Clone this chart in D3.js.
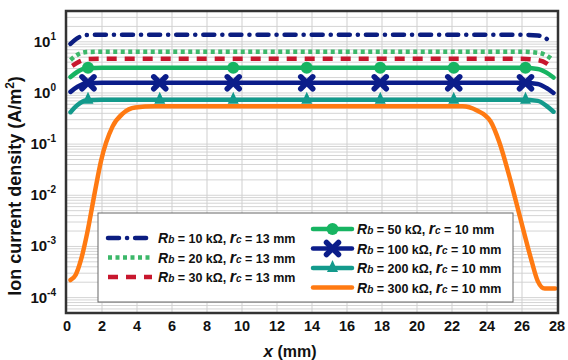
<!DOCTYPE html>
<html>
<head>
<meta charset="utf-8">
<script src="https://cdn.jsdelivr.net/npm/d3@7"></script>
<style>
  body { margin: 0; background: #fff; }
  text { font-family: "Liberation Sans", Arial, sans-serif; font-weight: bold; }
</style>
</head>
<body>
<div id="chart-area"></div>
<script>
// ---- data ----
var xTicks = [0, 2, 4, 6, 8, 10, 12, 14, 16, 18, 20, 22, 24, 26, 28];
var yTickExps = [-4, -3, -2, -1, 0, 1];

var x10k  = [0.2, 0.6, 1.1, 2, 14, 26, 26.9, 27.4, 27.7];
var y10k  = [9.1, 11.8, 13.6, 13.7, 13.7, 13.7, 13.3, 11.5, 9.1];
var x20k  = [0.2, 0.6, 1.1, 2, 14, 26, 26.9, 27.4, 27.7];
var y20k  = [4.4, 5.6, 6.3, 6.4, 6.4, 6.4, 6.1, 5.4, 4.6];
var x30k  = [0.3, 0.7, 1.2, 2, 14, 26, 26.9, 27.4, 27.7];
var y30k  = [3.4, 4.1, 4.6, 4.65, 4.65, 4.65, 4.4, 3.8, 3.1];
var x50k  = [0.2, 0.6, 1.1, 2, 14, 26, 26.9, 27.4, 27.8];
var y50k  = [2.05, 2.6, 3.05, 3.1, 3.1, 3.1, 2.95, 2.5, 2.0];
var x100k = [0.2, 0.6, 1.1, 2, 14, 26, 26.9, 27.4, 27.8];
var y100k = [1.05, 1.32, 1.55, 1.58, 1.58, 1.58, 1.5, 1.25, 1.0];
var x200k = [0.2, 0.6, 1.1, 2, 14, 26, 26.9, 27.4, 27.8];
var y200k = [0.42, 0.58, 0.72, 0.74, 0.74, 0.74, 0.7, 0.56, 0.43];
var x300k = [0.2, 0.5, 0.8, 1.15, 1.6, 1.95, 2.6, 3.2, 3.9, 5, 14, 22.6, 23.4, 24.2, 24.7, 25.3, 25.9, 26.5, 26.9, 27.3, 27.9];
var y300k = [2.2e-4, 2.8e-4, 5.5e-4, 1.8e-3, 1.2e-2, 0.048, 0.22, 0.4, 0.52, 0.55, 0.55, 0.55, 0.46, 0.28, 0.11, 0.022, 3.6e-3, 6e-4, 2.1e-4, 1.5e-4, 1.5e-4];

var markX = [1.2, 5.3, 9.5, 13.7, 17.9, 22.1, 26.2];
var circleX = [1.2, 9.5, 13.7, 17.9, 22.1, 26.2];

var series = [
  { rb: "10",  rc: "13", xs: x10k,  ys: y10k,  color: "#0b1d80", dash: "11,8,0.1,8", cap: "round", col: 0, row: 0 },
  { rb: "20",  rc: "13", xs: x20k,  ys: y20k,  color: "#3cb86a", dash: "4,3.5",      cap: "butt",  col: 0, row: 1 },
  { rb: "30",  rc: "13", xs: x30k,  ys: y30k,  color: "#c8172e", dash: "10,8",       cap: "butt",  col: 0, row: 2 },
  { rb: "50",  rc: "10", xs: x50k,  ys: y50k,  color: "#17b462", dash: null, cap: "round", marker: "circle",   mx: circleX, col: 1, row: 0 },
  { rb: "100", rc: "10", xs: x100k, ys: y100k, color: "#0b1d8a", dash: null, cap: "round", marker: "cross",    mx: markX,   col: 1, row: 1 },
  { rb: "200", rc: "10", xs: x200k, ys: y200k, color: "#139a8c", dash: null, cap: "round", marker: "triangle", mx: markX,   col: 1, row: 2 },
  { rb: "300", rc: "10", xs: x300k, ys: y300k, color: "#ff7a12", dash: null, cap: "round", col: 1, row: 3 }
];

// ---- chart ----
var W = 568, H = 360;
var margin = { left: 67, right: 557, top: 11, bottom: 313 };

var svg = d3.select("#chart-area").append("svg")
    .attr("width", W)
    .attr("height", H);

var x = d3.scaleLinear().domain([0, 28]).range([margin.left, margin.right]);
var y = d3.scaleLog().domain([5e-5, 40]).range([margin.bottom, margin.top]);

// grid
var minor = [];
for (var e = -5; e <= 1; e++) {
  for (var k = 1; k <= 9; k++) {
    var v = k * Math.pow(10, e);
    if (v > 5e-5 && v < 40) minor.push(v);
  }
}
svg.append("g").selectAll("line")
    .data(minor).enter().append("line")
    .attr("x1", margin.left).attr("x2", margin.right)
    .attr("y1", function(d) { return y(d); })
    .attr("y2", function(d) { return y(d); })
    .attr("stroke", "#d4d4d4").attr("stroke-width", 1);

svg.append("g").selectAll("line")
    .data(xTicks.slice(1, -1)).enter().append("line")
    .attr("x1", function(d) { return x(d); })
    .attr("x2", function(d) { return x(d); })
    .attr("y1", margin.top).attr("y2", margin.bottom)
    .attr("stroke", "#cfcfcf").attr("stroke-width", 1);

// lines
var line = d3.line()
    .x(function(d) { return x(d[0]); })
    .y(function(d) { return y(d[1]); })
    .curve(d3.curveMonotoneX);

series.forEach(function(s) {
  var pts = s.xs.map(function(v, i) { return [v, s.ys[i]]; });
  svg.append("path")
      .datum(pts)
      .attr("d", line)
      .attr("fill", "none")
      .attr("stroke", s.color)
      .attr("stroke-width", 4.5)
      .attr("stroke-linecap", s.cap)
      .attr("stroke-dasharray", s.dash);
});

function plateau(s) { return s.ys[4]; }

function drawMarker(g, type, cx, cy, color) {
  if (type === "circle") {
    g.append("circle").attr("cx", cx).attr("cy", cy).attr("r", 6).attr("fill", color);
  } else if (type === "cross") {
    g.append("path")
        .attr("d", "M" + (cx - 6) + "," + (cy - 6) + "L" + (cx + 6) + "," + (cy + 6) +
                   "M" + (cx - 6) + "," + (cy + 6) + "L" + (cx + 6) + "," + (cy - 6))
        .attr("stroke", color).attr("stroke-width", 5.5).attr("stroke-linecap", "round");
  } else if (type === "triangle") {
    g.append("path")
        .attr("d", "M" + cx + "," + (cy - 8) + "L" + (cx + 5.5) + "," + (cy + 4) + "L" + (cx - 5.5) + "," + (cy + 4) + "Z")
        .attr("fill", color);
  }
}

series.forEach(function(s) {
  if (!s.marker) return;
  var g = svg.append("g");
  s.mx.forEach(function(mx) {
    drawMarker(g, s.marker, x(mx), y(plateau(s)), s.color);
  });
});

// frame
svg.append("rect")
    .attr("x", margin.left - 1).attr("y", margin.top)
    .attr("width", margin.right - margin.left + 2).attr("height", margin.bottom - margin.top)
    .attr("fill", "none").attr("stroke", "#333").attr("stroke-width", 2.5);

// x tick labels
svg.append("g").selectAll("text")
    .data(xTicks).enter().append("text")
    .attr("x", function(d) { return x(d); })
    .attr("y", 331)
    .attr("text-anchor", "middle")
    .attr("font-size", "14.5px")
    .attr("fill", "#111")
    .text(function(d) { return d; });

// y tick labels
var yt = svg.append("g").selectAll("text")
    .data(yTickExps).enter().append("text")
    .attr("x", 56)
    .attr("y", function(d) { return y(Math.pow(10, d)) + 5; })
    .attr("text-anchor", "end")
    .attr("font-size", "15px")
    .attr("fill", "#111");
yt.append("tspan").text("10");
yt.append("tspan")
    .attr("font-size", "10px")
    .attr("dy", -7)
    .text(function(d) { return d; });

// axis titles
var xt = svg.append("text")
    .attr("x", 290).attr("y", 357)
    .attr("text-anchor", "middle")
    .attr("font-size", "16px")
    .attr("fill", "#111");
xt.append("tspan").attr("font-style", "italic").attr("font-size", "17px").text("x");
xt.append("tspan").text(" (mm)");

var ytl = svg.append("text")
    .attr("transform", "translate(21,186) rotate(-90)")
    .attr("text-anchor", "middle")
    .attr("font-size", "18px")
    .attr("fill", "#111");
ytl.append("tspan").text("Ion current density (A/m");
ytl.append("tspan").attr("font-size", "12px").attr("dy", -7).text("2");
ytl.append("tspan").attr("dy", 7).text(")");

// legend
svg.append("rect")
    .attr("x", 98).attr("y", 213)
    .attr("width", 415).attr("height", 89)
    .attr("fill", "#fff").attr("stroke", "#666").attr("stroke-width", 1);

var legCols = [
  { x0: 108, x1: 152, tx: 158, y0: 238, dy: 19.5 },
  { x0: 313, x1: 352, tx: 357, y0: 229, dy: 19.5 }
];

series.forEach(function(s) {
  var c = legCols[s.col];
  var ly = c.y0 + s.row * c.dy;
  var g = svg.append("g");
  g.append("line")
      .attr("x1", c.x0).attr("x2", c.x1)
      .attr("y1", ly).attr("y2", ly)
      .attr("stroke", s.color)
      .attr("stroke-width", 4.5)
      .attr("stroke-linecap", s.cap)
      .attr("stroke-dasharray", s.dash);
  if (s.marker) drawMarker(g, s.marker, (c.x0 + c.x1) / 2, ly, s.color);
  var t = g.append("text")
      .attr("x", c.tx).attr("y", ly + 5)
      .attr("font-size", "12.5px")
      .attr("fill", "#111");
  t.append("tspan").attr("font-style", "italic").attr("font-size", "14px").text("R");
  t.append("tspan").attr("font-style", "italic").attr("font-size", "10px").text("b");
  t.append("tspan").text(" = " + s.rb + " k\u03A9, ");
  t.append("tspan").attr("font-style", "italic").attr("font-size", "16px").text("r");
  t.append("tspan").attr("font-style", "italic").attr("font-size", "10px").text("c");
  t.append("tspan").text(" = " + s.rc + " mm");
});
</script>
</body>
</html>
